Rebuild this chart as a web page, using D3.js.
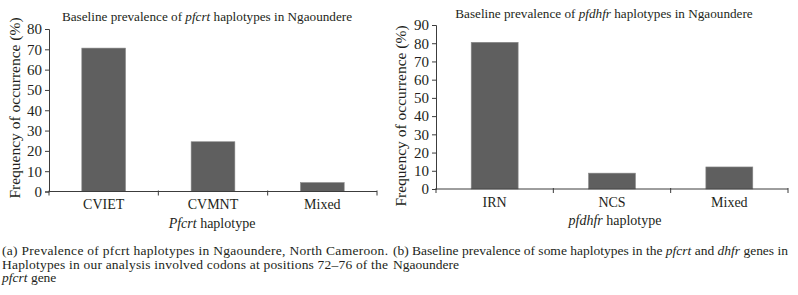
<!DOCTYPE html>
<html>
<head>
<meta charset="utf-8">
<script src="https://cdn.jsdelivr.net/npm/d3@7"></script>
<style>
  body { margin: 0; background: #fff; }
  svg { font-family: "Liberation Serif", serif; fill: #231f20; }
</style>
</head>
<body>
<svg id="chart" width="798" height="295"></svg>
<script>
// panel (a)
var pfcrtCategories = ["CVIET", "CVMNT", "Mixed"];
var pfcrtValues = [70.6, 24.5, 4.4];
var pfcrtTicks = [0, 10, 20, 30, 40, 50, 60, 70, 80];

// panel (b)
var dhfrCategories = ["IRN", "NCS", "Mixed"];
var dhfrValues = [80.5, 8.7, 12.1];
var dhfrTicks = [0, 10, 20, 30, 40, 50, 60, 70, 80, 90];

var svg = d3.select("#chart");

function drawPanel(opts) {
    var g = svg.append("g");

    var x = d3.scaleBand()
        .domain(opts.categories)
        .range([opts.left, opts.right])
        .paddingInner(0.6)
        .paddingOuter(0.3);

    var y = d3.scaleLinear()
        .domain([0, d3.max(opts.ticks)])
        .range([opts.bottom, opts.top]);

    // bars
    g.selectAll("rect")
        .data(opts.values)
        .enter().append("rect")
        .attr("x", function(d, i) { return x(opts.categories[i]); })
        .attr("y", function(d) { return y(d); })
        .attr("width", x.bandwidth())
        .attr("height", function(d) { return opts.bottom - y(d); })
        .style("fill", "#5f5f5f")
        .style("stroke", "#8a8a8a")
        .style("stroke-width", 0.6);

    // y axis
    var yAxis = g.append("g")
        .attr("transform", "translate(" + opts.left + ",0)")
        .call(d3.axisLeft(y).tickValues(opts.ticks).tickSize(4).tickPadding(3));
    yAxis.selectAll("text").style("font-size", "15px").style("font-family", "Liberation Serif").attr("fill", "#231f20");
    yAxis.select(".domain").attr("stroke", "#3c3c3c");
    yAxis.selectAll(".tick line").attr("stroke", "#3c3c3c");

    // x axis with ticks at band boundaries
    var xAxis = g.append("g")
        .attr("transform", "translate(0," + opts.bottom + ")");
    xAxis.append("line")
        .attr("x1", opts.left).attr("x2", opts.right)
        .attr("stroke", "#3c3c3c");
    var step = x.step();
    var edges = opts.categories.map(function(c) { return x(c) - step * 0.3; });
    edges.push(opts.right);
    xAxis.selectAll("line.tick")
        .data(edges)
        .enter().append("line")
        .attr("class", "tick")
        .attr("x1", function(d) { return d; })
        .attr("x2", function(d) { return d; })
        .attr("y1", -1).attr("y2", 4)
        .attr("stroke", "#3c3c3c");
    xAxis.selectAll("text.cat")
        .data(opts.categories)
        .enter().append("text")
        .attr("class", "cat")
        .attr("x", function(d) { return x(d) + x.bandwidth() / 2; })
        .attr("y", 17.5)
        .attr("text-anchor", "middle")
        .style("font-size", "14px")
        .text(function(d) { return d; });

    // x axis title
    var xt = g.append("text")
        .attr("x", opts.xTitleX)
        .attr("y", opts.bottom + 36)
        .attr("text-anchor", "middle")
        .style("font-size", "14px");
    xt.append("tspan").style("font-style", "italic").text(opts.xTitleItalic);
    xt.append("tspan").text(" haplotype");

    // y axis title
    g.append("text")
        .attr("transform", "translate(" + opts.yTitleX + "," + opts.yTitleY + ") rotate(-90)")
        .attr("text-anchor", "middle")
        .style("font-size", "15.5px")
        .text("Frequency of occurrence (%)");

    // chart title
    var t = g.append("text")
        .attr("x", opts.titleX)
        .attr("y", opts.titleY)
        .attr("text-anchor", "middle")
        .style("font-size", "13.2px");
    t.append("tspan").text("Baseline prevalence of ");
    t.append("tspan").style("font-style", "italic").text(opts.gene);
    t.append("tspan").text(" haplotypes in Ngaoundere");
}

drawPanel({
    categories: pfcrtCategories, values: pfcrtValues, ticks: pfcrtTicks,
    left: 49, right: 377, top: 29, bottom: 191.5,
    gene: "pfcrt", titleX: 207, titleY: 21,
    xTitleItalic: "Pfcrt", xTitleX: 212,
    yTitleX: 20, yTitleY: 108
});

drawPanel({
    categories: dhfrCategories, values: dhfrValues, ticks: dhfrTicks,
    left: 436, right: 788, top: 25, bottom: 189,
    gene: "pfdhfr", titleX: 604, titleY: 18,
    xTitleItalic: "pfdhfr", xTitleX: 615,
    yTitleX: 406, yTitleY: 116
});

// captions
function captionLine(x, y, parts, width) {
    var t = svg.append("text")
        .attr("x", x).attr("y", y)
        .style("font-size", "13.5px");
    parts.forEach(function(p) {
        t.append("tspan").style("font-style", p[1] ? "italic" : "normal").text(p[0]);
    });
    if (width) {
        t.attr("textLength", width).attr("lengthAdjust", "spacing");
    }
}

captionLine(2, 255, [["(a)  Prevalence of pfcrt haplotypes in Ngaoundere, North Cameroon.", false]], 386);
captionLine(2, 268.5, [["Haplotypes in our analysis involved codons at positions 72\u201376 of the", false]], 386);
captionLine(2, 282, [["pfcrt", true], [" gene", false]]);

captionLine(393, 255, [["(b)  Baseline prevalence of some haplotypes in the ", false], ["pfcrt", true], [" and ", false], ["dhfr", true], [" genes in", false]], 395);
captionLine(393, 268.5, [["Ngaoundere", false]]);
</script>
</body>
</html>
